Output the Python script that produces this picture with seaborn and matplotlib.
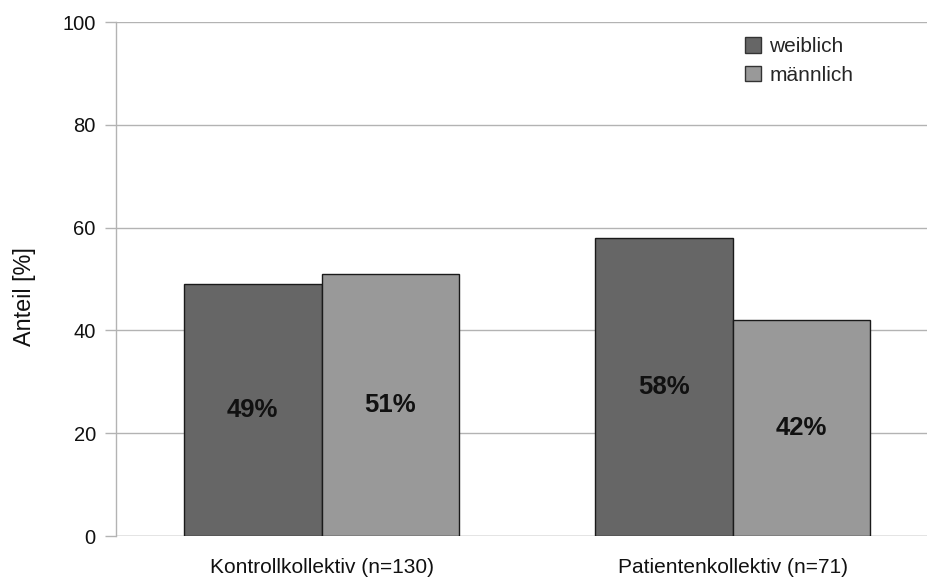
import matplotlib
matplotlib.use("Agg")
import matplotlib.pyplot as plt
from matplotlib.patches import Patch
import seaborn as sns
import pandas as pd

groups = ["Kontrollkollektiv (n=130)", "Patientenkollektiv (n=71)"]
sexes = ["weiblich", "männlich"]
weiblich = [49, 58]
maennlich = [51, 42]
yticks = [0, 20, 40, 60, 80, 100]

df = pd.DataFrame({
    "Gruppe": groups * 2,
    "Geschlecht": [sexes[0]] * 2 + [sexes[1]] * 2,
    "Anteil": weiblich + maennlich,
})

sns.set_theme(style="white")
plt.rcParams["font.family"] = ["Liberation Sans", "DejaVu Sans"]

palette = {"weiblich": "#666666", "männlich": "#999999"}

fig = plt.figure(figsize=(9.27, 5.79), dpi=100)
ax = fig.add_axes([116 / 927, 1 - 536 / 579, 1 - 116 / 927, (536 - 22) / 579])

sns.barplot(data=df, x="Gruppe", y="Anteil", hue="Geschlecht", hue_order=sexes,
            order=groups, palette=palette, width=0.669, edgecolor="#1a1a1a",
            linewidth=1.0, ax=ax, legend=False, zorder=3)

for cont in ax.containers:
    for bar in cont:
        h = bar.get_height()
        ax.text(bar.get_x() + bar.get_width() / 2, h / 2, f"{h:.0f}%",
                ha="center", va="center", fontsize=18.5, fontweight="bold",
                color="#111111", zorder=4)

ax.set_ylim(0, 100)
ax.set_xlim(-0.5, -0.5 + (927 - 116) / 411)
ax.set_yticks(yticks)
ax.yaxis.grid(True, color="#b3b3b3", linewidth=1.0)
ax.set_axisbelow(True)
for side in ["top", "right", "bottom"]:
    ax.spines[side].set_visible(False)
ax.spines["left"].set_color("#b3b3b3")
ax.spines["left"].set_linewidth(1.0)

# category separators on the x axis
ax.set_xticks([-0.5, 0.5], minor=True)
ax.tick_params(axis="x", which="minor", length=7.5, color="#b3b3b3", width=1.0)
ax.tick_params(axis="x", which="major", length=0, pad=16, labelsize=15, labelcolor="#111111")
ax.tick_params(axis="y", length=8, color="#b3b3b3", width=1.0, pad=6.5,
               labelsize=14.5, labelcolor="#111111", left=True)
ax.axhline(0, color="#b3b3b3", linewidth=1.0, zorder=1)

ax.set_xlabel("")
ax.set_ylabel("Anteil [%]", fontsize=16.8, color="#111111")
ax.yaxis.label.set_va("center")
ax.yaxis.set_label_coords((24 - 116) / 811, (536 - 297) / 514)

handles = [Patch(facecolor=palette[s], edgecolor="#333333", label=s) for s in sexes]
ax.legend(handles=handles, loc="upper left", bbox_to_anchor=((726 - 116) / 811, 1.007),
          frameon=False, fontsize=15, handlelength=0.77, handleheight=0.77,
          handletextpad=0.4, labelspacing=0.47)

fig.savefig("out.png", dpi=100)
